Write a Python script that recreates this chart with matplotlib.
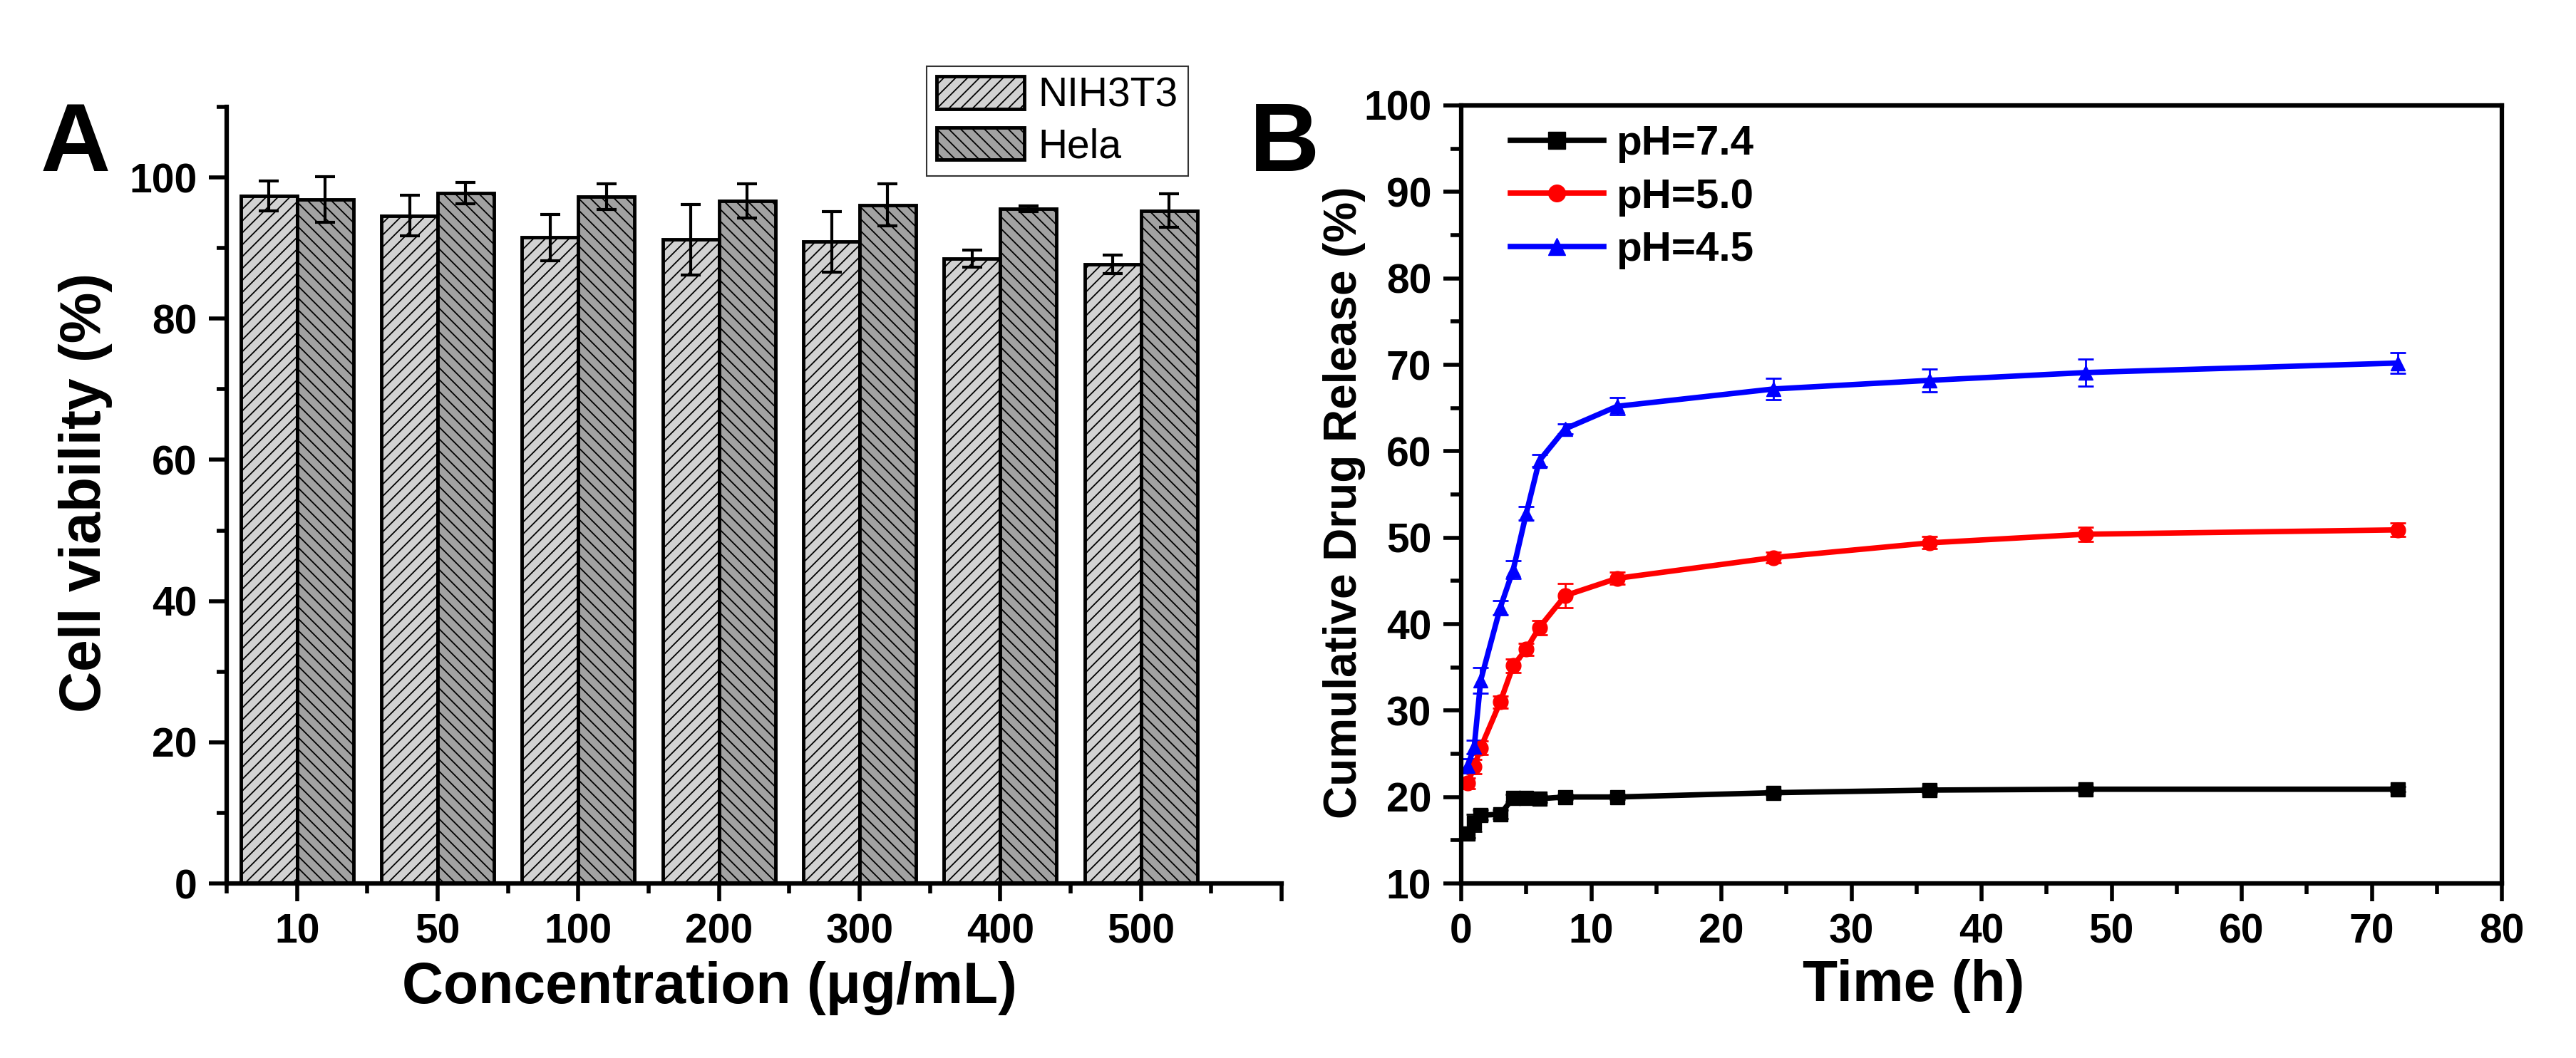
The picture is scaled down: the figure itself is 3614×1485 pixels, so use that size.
import matplotlib
matplotlib.use('Agg')
import matplotlib.pyplot as plt
from matplotlib.ticker import MultipleLocator, FixedLocator
from matplotlib.lines import Line2D
import numpy as np

plt.rcParams['font.family'] = ['Liberation Sans', 'DejaVu Sans']
plt.rcParams['hatch.linewidth'] = 1.3
plt.rcParams['hatch.color'] = '#2a2a2a'

# ---- panel A data ----
conc_labels = ['10', '50', '100', '200', '300', '400', '500']
nih_mean = [97.4, 94.6, 91.5, 91.2, 90.9, 88.5, 87.7]
nih_err = [2.1, 2.9, 3.3, 5.0, 4.3, 1.2, 1.3]
hela_mean = [96.9, 97.8, 97.3, 96.7, 96.1, 95.6, 95.3]
hela_err = [3.2, 1.5, 1.8, 2.4, 3.0, 0.4, 2.4]

# ---- panel B data ----
time_h = [0.5, 1, 1.5, 3, 4, 5, 6, 8, 12, 24, 36, 48, 72]
ph74 = [15.8, 17.0, 17.9, 18.0, 19.9, 19.9, 19.8, 20.0, 20.0, 20.5, 20.8, 20.9, 20.9]
ph74_err = [0.5, 1.0, 0.6, 0.5, 0.4, 0.4, 0.4, 0.3, 0.3, 0.3, 0.3, 0.3, 0.3]
ph50 = [21.6, 23.5, 25.7, 31.0, 35.2, 37.1, 39.6, 43.3, 45.3, 47.7, 49.4, 50.4, 50.9]
ph50_err = [0.6, 0.8, 0.8, 0.7, 0.8, 0.7, 0.8, 1.4, 0.7, 0.6, 0.7, 0.8, 0.8]
ph45 = [23.6, 25.8, 33.5, 41.9, 46.3, 52.8, 58.9, 62.6, 65.2, 67.2, 68.2, 69.1, 70.2]
ph45_err = [0.8, 0.8, 1.5, 0.8, 1.0, 0.8, 0.7, 0.6, 1.0, 1.2, 1.3, 1.6, 1.2]

W, H = 3614, 1485
fig = plt.figure(figsize=(W / 100, H / 100), dpi=100)

label_font = dict(family=['Liberation Sans', 'DejaVu Sans'], weight='bold')

# ================= panel A =================
axA = fig.add_axes([318 / W, 245 / H, 1480 / W, 1090 / H])
x = np.arange(1, len(conc_labels) + 1)
bw = 0.4
axA.bar(x - bw / 2, nih_mean, bw, color='#d2d2d2', edgecolor='black', linewidth=3.5,
        hatch='//', label='NIH3T3', zorder=2)
axA.bar(x + bw / 2, hela_mean, bw, color='#a2a2a2', edgecolor='black', linewidth=3.5,
        hatch='\\\\', label='Hela', zorder=2)
axA.errorbar(x - bw / 2, nih_mean, yerr=nih_err, fmt='none', ecolor='black',
             elinewidth=3, capsize=10, capthick=3, zorder=3)
axA.errorbar(x + bw / 2, hela_mean, yerr=hela_err, fmt='none', ecolor='black',
             elinewidth=3, capsize=10, capthick=3, zorder=3)

axA.set_xlim(0.5, 8.0)
axA.set_ylim(0, 110)
axA.spines['top'].set_visible(False)
axA.spines['right'].set_visible(False)
for s in ['left', 'bottom']:
    axA.spines[s].set_linewidth(4.5)
axA.xaxis.set_major_locator(FixedLocator(list(range(1, 9))))
axA.set_xticklabels(conc_labels + [''])
axA.xaxis.set_minor_locator(FixedLocator([i + 0.5 for i in range(0, 8)]))
axA.yaxis.set_major_locator(MultipleLocator(20))
axA.yaxis.set_minor_locator(MultipleLocator(10))
axA.tick_params(which='major', direction='out', length=18, width=4, pad=12)
axA.tick_params(which='minor', direction='out', length=10, width=4)
for lab in axA.get_xticklabels() + axA.get_yticklabels():
    lab.set_fontsize(41)
    lab.set_fontweight('bold')

axA.set_xlabel('Concentration (\u03bcg/mL)', fontsize=58, **label_font)
axA.xaxis.set_label_coords(0.458, -0.135)
axA.xaxis.label.set_va('center')
axA.set_ylabel('Cell viability (%)', fontsize=58, **label_font)
axA.yaxis.set_label_coords(-0.134, 0.503)
axA.yaxis.label.set_va('center')

legA = axA.legend(loc='upper left', bbox_to_anchor=(1300 / W, 1 - 93 / H),
                  bbox_transform=fig.transFigure, frameon=True,
                  fancybox=False, edgecolor='black', handlelength=2.15, handleheight=0.85,
                  borderpad=0.25, borderaxespad=0, labelspacing=0.3, handletextpad=0.35,
                  prop=dict(size=41))
legA.get_frame().set_linewidth(1.5)
for p in legA.get_patches():
    p.set_linewidth(3.5)

# ================= panel B =================
axB = fig.add_axes([2050 / W, 245 / H, 1460 / W, 1092 / H])
series = [
    (ph74, ph74_err, 'black', 's', 'pH=7.4'),
    (ph50, ph50_err, 'red', 'o', 'pH=5.0'),
    (ph45, ph45_err, 'blue', '^', 'pH=4.5'),
]
handles = []
for vals, errs, col, mk, lab in series:
    axB.errorbar(time_h, vals, yerr=errs, color=col, marker=mk, markersize=15,
                 linewidth=5.5, elinewidth=2, capsize=8, capthick=2)
    handles.append(Line2D([], [], color=col, marker=mk, markersize=17,
                          linewidth=5.5, label=lab))

axB.set_xlim(0, 80)
axB.set_ylim(10, 100)
for s in axB.spines.values():
    s.set_linewidth(4.5)
axB.xaxis.set_major_locator(MultipleLocator(10))
axB.xaxis.set_minor_locator(MultipleLocator(5))
axB.yaxis.set_major_locator(MultipleLocator(10))
axB.yaxis.set_minor_locator(MultipleLocator(5))
axB.tick_params(which='major', direction='out', length=18, width=4, pad=12)
axB.tick_params(which='minor', direction='out', length=11, width=4)
for lab in axB.get_xticklabels() + axB.get_yticklabels():
    lab.set_fontsize(41)
    lab.set_fontweight('bold')

axB.set_xlabel('Time (h)', fontsize=58, **label_font)
axB.xaxis.set_label_coords(0.435, -0.132)
axB.xaxis.label.set_va('center')
axB.set_ylabel('Cumulative Drug Release (%)', fontsize=46, **label_font)
axB.yaxis.set_label_coords(-0.112, 0.49)
axB.yaxis.label.set_va('center')

axB.legend(handles=handles, loc='upper left', bbox_to_anchor=(0.047, 0.975),
           frameon=False, handlelength=2.25, borderpad=0, borderaxespad=0,
           labelspacing=0.35, handletextpad=0.3,
           prop=dict(weight='bold', size=42))

# panel letters
fig.text(57 / W, 1 - 240 / H, 'A', fontsize=98, ha='left', va='baseline', **label_font)
fig.text(1753 / W, 1 - 240 / H, 'B', fontsize=98, ha='left', va='baseline', **label_font)

fig.savefig('out.png', dpi=100)
